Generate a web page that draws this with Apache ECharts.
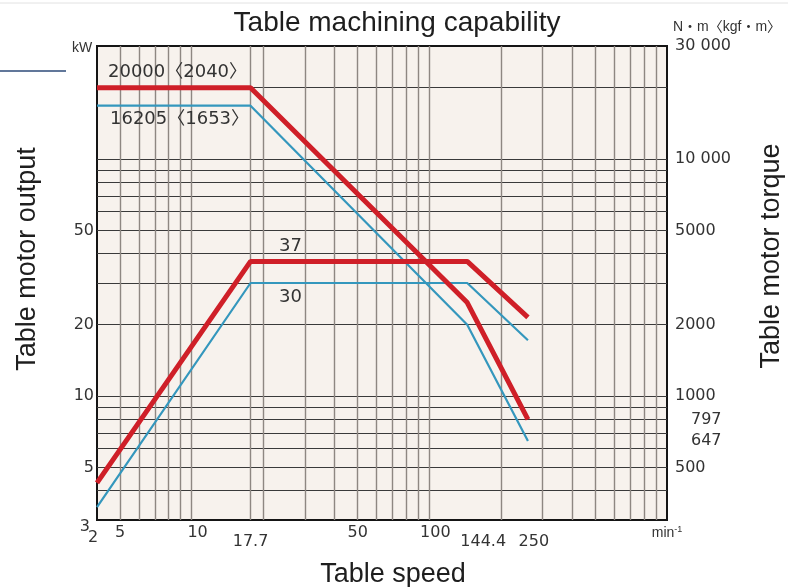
<!DOCTYPE html>
<html>
<head>
    <meta charset="utf-8">
    <title>Table machining capability</title>
    <script src="https://cdn.jsdelivr.net/npm/echarts@6.0.0/dist/echarts.min.js"></script>
    <style>
        html, body { margin: 0; padding: 0; background: #fff; }
        #main { width: 788px; height: 587px; }
    </style>
</head>
<body>
<div id="main"></div>
<script>
    // speed breakpoints (min-1) shared by all four curves
    var speed = [4, 17.7, 144.4, 260];
    // motor output, kW (left axis)
    var outputRed = [4.3, 37, 37, 21.5];
    var outputBlue = [3.4, 30, 30, 17.2];
    // motor torque, N·m (right axis)
    var torqueRed = [20000, 20000, 2480, 797];
    var torqueBlue = [16800, 16800, 2000, 647];

    // grid lines
    var xGrid = [5, 6, 7, 8, 9, 10, 17.7, 20, 30, 40, 50, 60, 70, 80, 90, 100, 200, 300, 400, 500, 600, 700, 800, 900];
    var yGrid = [4, 5, 6, 7, 8, 9, 10, 20, 30, 40, 50, 60, 70, 80, 90, 100, 200];

    // tick labels
    var xTickValues = [4, 5, 10, 17.7, 50, 100, 144.4, 250, 1000];
    var xTickText = ['2', '5', '10', '17.7', '50', '100', '144.4', '250', 'min-1'];
    var yTickValues = [3, 5, 10, 20, 50];
    var yTickText = ['3', '5', '10', '20', '50'];
    var torqueTickValues = [500, 647, 797, 1000, 2000, 5000, 10000, 30000];
    var torqueTickText = ['500', '647', '797', '1000', '2000', '5000', '10 000', '30 000'];

    var RED = '#cf1f28';
    var BLUE = '#3497bd';
    var FONT = '"Liberation Sans", "Noto Sans CJK JP", sans-serif';
    var NUMFONT = '"DejaVu Sans", "Noto Sans CJK JP", sans-serif';

    function findIdx(arr, v) {
        for (var i = 0; i < arr.length; i++) {
            if (Math.abs(arr[i] - v) / arr[i] < 1e-6) return i;
        }
        return -1;
    }

    function pairs(xs, ys) {
        return xs.map(function (x, i) { return [x, ys[i]]; });
    }

    var chart = echarts.init(document.getElementById('main'), null, {renderer: 'canvas'});

    var option = {
        animation: false,
        textStyle: { fontFamily: NUMFONT, color: '#333' },
        grid: {
            left: 97, right: 121, top: 46, bottom: 67,
            show: true,
            backgroundColor: '#f7f2ed',
            borderColor: '#151515',
            borderWidth: 2
        },
        xAxis: {
            type: 'log',
            logBase: 10,
            min: 4,
            max: 1000,
            axisLine: { show: false },
            axisTick: { show: false, customValues: xGrid },
            splitLine: { show: true, lineStyle: { color: '#8e8782', width: 1.4 } },
            axisLabel: {
                customValues: xTickValues,
                margin: 5,
                fontSize: 16,
                color: '#333',
                fontFamily: NUMFONT,
                formatter: function (v) {
                    var i = findIdx(xTickValues, v);
                    var t = i < 0 ? '' : xTickText[i];
                    if (t === '2') return '{two|2}';
                    if (t === '17.7') return '{low|17.7}';
                    if (t === '144.4') return '{low144|144.4}';
                    if (t === '250') return '{low250|250}';
                    if (t === '10' || t === '100') return '{sh|' + t + '}';
                    if (t === 'min-1') return '{u|min}{s|-1}';
                    return t;
                },
                rich: {
                    two: { fontSize: 16, padding: [5, 8, 0, 0] },
                    low: { fontSize: 16, padding: [9, 0, 0, 0] },
                    low144: { fontSize: 16, padding: [9, 0, 0, 32] },
                    low250: { fontSize: 16, padding: [9, 0, 0, 20] },
                    sh: { fontSize: 16, padding: [0, 0, 0, 12] },
                    u: { fontSize: 14, fontFamily: FONT, padding: [0, 0, 0, 0] },
                    s: { fontSize: 9, fontFamily: FONT, verticalAlign: 'top', padding: [0, 0, 8, 0] }
                }
            }
        },
        yAxis: [
            {
                type: 'log',
                logBase: 10,
                min: 3,
                max: 300,
                axisLine: { show: false },
                axisTick: { show: false, customValues: yGrid },
                splitLine: { show: true, lineStyle: { color: '#3a3a3a', width: 1 } },
                axisLabel: {
                    customValues: yTickValues,
                    margin: 3,
                    fontSize: 16,
                    color: '#333',
                    fontFamily: NUMFONT,
                    formatter: function (v) {
                        var i = findIdx(yTickValues, v);
                        var t = i < 0 ? '' : yTickText[i];
                        if (t === '3') return '{three|3}';
                        return t;
                    },
                    rich: {
                        three: { fontSize: 16, padding: [14, 4, 0, 0] }
                    }
                }
            },
            {
                type: 'log',
                logBase: 10,
                min: 300,
                max: 30000,
                position: 'right',
                axisLine: { show: false },
                axisTick: { show: false },
                splitLine: { show: false },
                axisLabel: {
                    customValues: torqueTickValues,
                    margin: 8,
                    fontSize: 16,
                    color: '#333',
                    fontFamily: NUMFONT,
                    formatter: function (v) {
                        var i = findIdx(torqueTickValues, v);
                        var t = i < 0 ? '' : torqueTickText[i];
                        if (t === '797' || t === '647') return '{ind|' + t + '}';
                        return t;
                    },
                    rich: {
                        ind: { fontSize: 16, padding: [0, 0, 0, 16] }
                    }
                }
            }
        ],
        series: [
            {
                name: 'Output 30 kW',
                type: 'line',
                yAxisIndex: 0,
                data: pairs(speed, outputBlue),
                symbol: 'none',
                lineStyle: { color: BLUE, width: 2.2 },
                markPoint: {
                    silent: true,
                    symbol: 'circle',
                    symbolSize: 0,
                    itemStyle: { color: 'transparent' },
                    label: { show: true, position: 'inside', offset: [40, 14], fontSize: 18, fontFamily: NUMFONT, color: '#333', formatter: '30' },
                    data: [{ coord: [speed[1], outputBlue[1]] }]
                }
            },
            {
                name: 'Torque 16205',
                type: 'line',
                yAxisIndex: 1,
                data: pairs(speed, torqueBlue),
                symbol: 'none',
                lineStyle: { color: BLUE, width: 2.2 },
                markPoint: {
                    silent: true,
                    symbol: 'circle',
                    symbolSize: 0,
                    itemStyle: { color: 'transparent' },
                    label: { show: true, position: 'right', distance: 0, offset: [13, 14], fontSize: 18, fontFamily: NUMFONT, color: '#333', formatter: '16205〈1653〉' },
                    data: [{ coord: [speed[0], torqueBlue[0]] }]
                }
            },
            {
                name: 'Output 37 kW',
                type: 'line',
                yAxisIndex: 0,
                data: pairs(speed, outputRed),
                symbol: 'none',
                lineStyle: { color: RED, width: 5 },
                markPoint: {
                    silent: true,
                    symbol: 'circle',
                    symbolSize: 0,
                    itemStyle: { color: 'transparent' },
                    label: { show: true, position: 'inside', offset: [40, -15], fontSize: 18, fontFamily: NUMFONT, color: '#333', formatter: '37' },
                    data: [{ coord: [speed[1], outputRed[1]] }]
                }
            },
            {
                name: 'Torque 20000',
                type: 'line',
                yAxisIndex: 1,
                data: pairs(speed, torqueRed),
                symbol: 'none',
                lineStyle: { color: RED, width: 5 },
                markPoint: {
                    silent: true,
                    symbol: 'circle',
                    symbolSize: 0,
                    itemStyle: { color: 'transparent' },
                    label: { show: true, position: 'right', distance: 0, offset: [11, -15], fontSize: 18, fontFamily: NUMFONT, color: '#333', formatter: '20000〈2040〉' },
                    data: [{ coord: [speed[0], torqueRed[0]] }]
                }
            }
        ],
        graphic: [
            { type: 'line', shape: { x1: 0, y1: 3, x2: 788, y2: 3 }, style: { stroke: '#e2e2e2', lineWidth: 1 } },
            { type: 'line', shape: { x1: 0, y1: 71, x2: 66, y2: 71 }, style: { stroke: '#2c4a78', lineWidth: 1.3 } },
            { type: 'text', x: 397, y: 23, style: { text: 'Table machining capability', font: '28px "Liberation Sans", sans-serif', fill: '#1e1e1e', align: 'center', verticalAlign: 'middle' } },
            { type: 'text', x: 28, y: 259, rotation: Math.PI / 2, style: { text: 'Table motor output', font: '27px "Liberation Sans", sans-serif', fill: '#1e1e1e', align: 'center', verticalAlign: 'middle' } },
            { type: 'text', x: 772, y: 256, rotation: Math.PI / 2, style: { text: 'Table motor torque', font: '27px "Liberation Sans", sans-serif', fill: '#1e1e1e', align: 'center', verticalAlign: 'middle' } },
            { type: 'text', x: 393, y: 575, style: { text: 'Table speed', font: '27px "Liberation Sans", sans-serif', fill: '#1e1e1e', align: 'center', verticalAlign: 'middle' } },
            { type: 'text', x: 82, y: 48, style: { text: 'kW', font: '14px "Liberation Sans", sans-serif', fill: '#333', align: 'center', verticalAlign: 'middle' } },
            { type: 'text', x: 727, y: 27, style: { text: 'N・m〈kgf・m〉', font: '14px "Liberation Sans", "Noto Sans CJK JP", sans-serif', fill: '#333', align: 'center', verticalAlign: 'middle' } }
        ]
    };

    chart.setOption(option);
</script>
</body>
</html>
